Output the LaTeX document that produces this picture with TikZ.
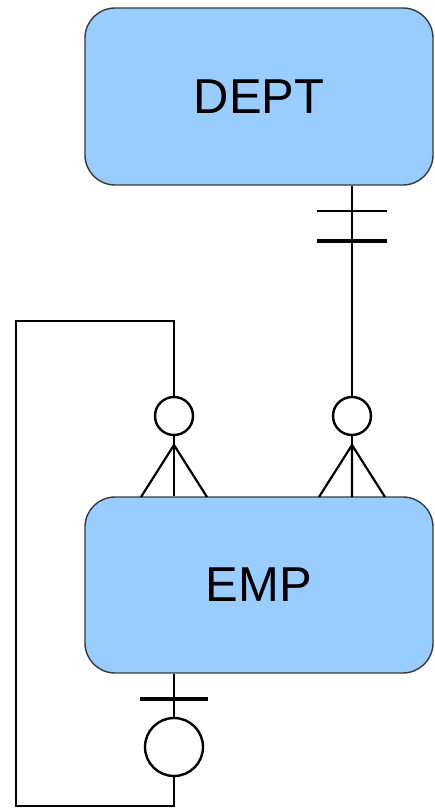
\documentclass[tikz,border=0pt]{standalone}
\usepackage{fontspec}
\setmainfont{Liberation Sans}
\definecolor{entfill}{HTML}{99CCFF}
\definecolor{entline}{HTML}{36393D}
\begin{document}
\begin{tikzpicture}[x=1pt,y=-1pt,
  entity/.style={draw=entline,line width=1.4pt,fill=entfill,rounded corners=30pt,
    minimum width=348pt,inner sep=0pt,font=\fontsize{49}{52}\selectfont},
  conn/.style={line width=2.2pt,black},
  bar/.style={line width=2.4pt,black},
  thickbar/.style={line width=3.4pt,black},
  ring/.style={line width=2.4pt,black,fill=white}]
\useasboundingbox (0,0) rectangle (434,809);
\node[entity,minimum height=177pt] (dept) at (259,96.5) {DEPT};
\node[entity,minimum height=176pt] (emp) at (259,585) {EMP};
\coordinate (rx) at (352,0);
\coordinate (lx) at (174,0);
\coordinate (top) at (16,321);
\coordinate (bot) at (16,806);
% DEPT -- EMP
\draw[conn] (dept.south -| rx) -- (emp.north -| rx);
\draw[bar] (317,211) -- (387,211);
\draw[thickbar] (317,241) -- (387,241);
\draw[ring] (352,416) circle (19);
\draw[conn] (352,445) -- (319,497) (352,445) -- (385,497) (352,445) -- (352,497);
% self loop
\draw[conn] (emp.north -| lx) |- (top) |- (bot -| lx) -- (emp.south -| lx);
\draw[ring] (174,416) circle (19);
\draw[conn] (174,445) -- (141,497) (174,445) -- (207,497);
\draw[thickbar] (140,699) -- (208,699);
\draw[ring] (174,747) circle (29);
\end{tikzpicture}
\end{document}
